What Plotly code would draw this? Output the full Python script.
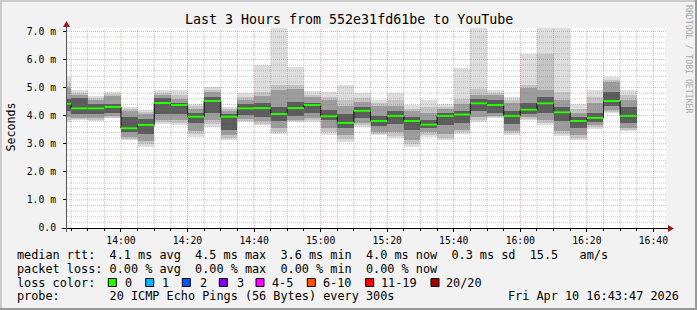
import plotly.graph_objects as go
from datetime import datetime, timedelta

# ---------------- data (values in milliseconds) ----------------
DAY = "2026-04-10"
step_end = ["13:45", "13:50", "13:55", "14:00", "14:05", "14:10", "14:15", "14:20",
            "14:25", "14:30", "14:35", "14:40", "14:45", "14:50", "14:55", "15:00",
            "15:05", "15:10", "15:15", "15:20", "15:25", "15:30", "15:35", "15:40",
            "15:45", "15:50", "15:55", "16:00", "16:05", "16:10", "16:15", "16:20",
            "16:25", "16:30", "16:35"]
median = [4.42, 4.26, 4.26, 4.31, 3.55, 3.67, 4.45, 4.38, 3.96, 4.52, 3.96, 4.26,
          4.27, 4.06, 4.27, 4.38, 3.98, 3.74, 4.17, 3.81, 3.99, 3.81, 3.68, 3.99,
          4.04, 4.44, 4.38, 3.99, 4.21, 4.44, 4.12, 3.81, 3.92, 4.52, 3.99]
ping_max = [5.38, 4.90, 4.69, 4.84, 4.31, 4.19, 4.90, 4.90, 4.43, 5.02, 4.31, 4.79,
            5.82, 7.30, 5.73, 4.87, 4.84, 5.08, 4.79, 4.55, 4.79, 4.37, 4.55, 4.40,
            5.70, 7.50, 4.90, 4.67, 6.21, 7.40, 7.80, 4.40, 4.90, 5.38, 4.90]
ping_min = [3.78, 3.84, 3.81, 3.90, 3.13, 2.89, 3.72, 3.66, 3.24, 3.60, 3.13, 3.78,
            3.66, 3.33, 3.78, 3.78, 3.30, 3.07, 3.60, 3.30, 3.19, 2.89, 3.24, 3.13,
            3.36, 3.78, 3.90, 3.30, 3.84, 3.66, 3.28, 3.13, 3.54, 4.08, 3.45]
p19 = [5.15, 4.82, 4.62, 4.78, 4.22, 4.12, 4.82, 4.72, 4.33, 4.93, 4.22, 4.66,
       4.85, 5.10, 5.10, 4.75, 4.68, 4.55, 4.62, 4.45, 4.55, 4.25, 4.30, 4.32,
       4.60, 4.95, 4.82, 4.55, 5.10, 6.21, 4.85, 4.25, 4.65, 5.28, 4.72]
p2 = [3.85, 3.88, 3.86, 3.93, 3.18, 2.98, 3.78, 3.75, 3.33, 3.72, 3.20, 3.82,
      3.72, 3.42, 3.80, 3.84, 3.42, 3.18, 3.68, 3.36, 3.28, 3.00, 3.32, 3.22,
      3.42, 3.85, 3.94, 3.37, 3.88, 3.75, 3.36, 3.20, 3.58, 4.14, 3.50]
p18 = [5.00, 4.75, 4.55, 4.70, 4.15, 4.05, 4.75, 4.60, 4.25, 4.85, 4.15, 4.55,
       4.70, 4.90, 4.95, 4.65, 4.55, 4.35, 4.50, 4.35, 4.35, 4.15, 4.10, 4.25,
       4.40, 4.75, 4.75, 4.45, 5.00, 4.90, 4.55, 4.10, 4.45, 5.20, 4.55]
p15 = [4.60, 4.62, 4.40, 4.40, 3.95, 3.88, 4.62, 4.45, 4.10, 4.65, 4.05, 4.40,
       4.45, 4.30, 4.50, 4.45, 4.20, 4.05, 4.30, 4.00, 4.15, 3.95, 3.85, 4.10,
       4.15, 4.60, 4.55, 4.15, 4.45, 4.65, 4.30, 3.95, 4.10, 4.85, 4.30]
p6 = [4.15, 4.05, 4.05, 4.10, 3.42, 3.35, 4.05, 4.05, 3.75, 4.10, 3.50, 4.02,
      3.95, 3.80, 4.00, 4.10, 3.85, 3.55, 3.90, 3.62, 3.70, 3.50, 3.55, 3.65,
      3.75, 4.15, 4.10, 3.70, 4.05, 4.10, 3.80, 3.55, 3.78, 4.35, 3.75]
p3 = [3.95, 3.92, 3.92, 3.97, 3.25, 3.10, 3.85, 3.85, 3.45, 3.85, 3.30, 3.88,
      3.80, 3.55, 3.85, 3.90, 3.55, 3.30, 3.75, 3.42, 3.40, 3.15, 3.40, 3.35,
      3.50, 3.95, 3.98, 3.45, 3.95, 3.85, 3.45, 3.30, 3.65, 4.20, 3.55]

y_ticks = [0, 1, 2, 3, 4, 5, 6, 7]
y_ticktext = ["0.0", "1.0 m", "2.0 m", "3.0 m", "4.0 m", "5.0 m", "6.0 m", "7.0 m"]

loss_labels = ["0", "1", "2", "3", "4-5", "6-10", "11-19", "20/20"]
loss_colors = ["#26ff00", "#00b8ff", "#0059ff", "#7e00ff", "#ff00ff", "#ff5500",
               "#ff0000", "#a10000"]

title = "Last 3 Hours from 552e31fd61be to YouTube"
line_rtt = "median rtt:  4.1 ms avg  4.5 ms max  3.6 ms min  4.0 ms now  0.3 ms sd  15.5   am/s"
line_loss = "packet loss: 0.00 % avg  0.00 % max  0.00 % min  0.00 % now"
line_probe = "probe:       20 ICMP Echo Pings (56 Bytes) every 300s"
stamp = "Fri Apr 10 16:43:47 2026"

# ---------------- geometry ----------------
FW, FH = 697, 310
L, T, W, H = 67, 28, 599, 200
MONO = "DejaVu Sans Mono"
BG = "#f2f2f2"


def fx(p):
    return (p - L) / W


def fy(p):
    return (T + H - p) / H


def nb(s):
    return s.replace(" ", "\u00a0")


ends = [datetime.fromisoformat(f"{DAY} {t}:00") for t in step_end]
starts = [e - timedelta(minutes=5) for e in ends]
STEP_MS = 300000

fig = go.Figure()

bands = [(ping_min, ping_max, "#dddddd"), (p2, p19, "#c4c4c4"),
         (p3, p18, "#9d9d9d"), (p6, p15, "#5c5c5c")]
for lo, hi, col in bands:
    fig.add_trace(go.Bar(
        x=ends, y=[h - l for l, h in zip(lo, hi)], base=lo,
        width=STEP_MS, offset=-STEP_MS,
        marker=dict(color=col, line=dict(width=0)),
        hoverinfo="skip", showlegend=False))

# black step line of the median
fig.add_trace(go.Scatter(
    x=starts + [ends[-1]], y=median + [median[-1]], mode="lines",
    line=dict(color="#000000", width=1, shape="hv"),
    hoverinfo="skip", showlegend=False))

# green (0 loss) median segments
gx, gy = [], []
for s, e, m in zip(starts, ends, median):
    gx += [s, e, None]
    gy += [m, m, None]
fig.add_trace(go.Scatter(
    x=gx, y=gy, mode="lines", line=dict(color=loss_colors[0], width=2),
    hoverinfo="skip", showlegend=False))

shapes = []
MINOR = "rgba(120,120,120,0.4)"
MAJOR = "rgba(225,70,70,0.45)"
# grid drawn above the smoke, like rrdtool
t = datetime.fromisoformat(f"{DAY} 13:45:00")
while t <= datetime.fromisoformat(f"{DAY} 16:40:00"):
    major = (t.minute % 20 == 0)
    shapes.append(dict(type="line", xref="x", yref="paper", x0=t, x1=t, y0=0, y1=1,
                       line=dict(color=MAJOR if major else MINOR, width=1, dash="1px,1px"),
                       layer="above"))
    t += timedelta(minutes=5)
for k in range(1, 36):
    v = k * 0.2
    major = (k % 5 == 0)
    shapes.append(dict(type="line", xref="paper", yref="y", x0=0, x1=1, y0=v, y1=v,
                       line=dict(color=MAJOR if major else MINOR, width=1, dash="1px,1px"),
                       layer="above"))

# axes lines and arrows
shapes.append(dict(type="line", xref="paper", yref="paper", x0=fx(62), x1=fx(669),
                   y0=fy(228.5), y1=fy(228.5), line=dict(color="#000", width=1), layer="above"))
shapes.append(dict(type="line", xref="paper", yref="paper", x0=fx(66.5), x1=fx(66.5),
                   y0=fy(232), y1=fy(25), line=dict(color="#555", width=1), layer="above"))
shapes.append(dict(type="path", xref="paper", yref="paper",
                   path=f"M {fx(668)},{fy(225)} L {fx(674)},{fy(228.5)} L {fx(668)},{fy(232)} Z",
                   fillcolor="#9b1b1b", line=dict(width=0), layer="above"))
shapes.append(dict(type="path", xref="paper", yref="paper",
                   path=f"M {fx(63)},{fy(27)} L {fx(66.5)},{fy(21)} L {fx(70)},{fy(27)} Z",
                   fillcolor="#9b1b1b", line=dict(width=0), layer="above"))

# outer bevel frame
shapes.append(dict(type="rect", xref="paper", yref="paper", x0=fx(0), x1=fx(2),
                   y0=fy(FH), y1=fy(0), fillcolor="#cbcbcb", line=dict(width=0)))
shapes.append(dict(type="rect", xref="paper", yref="paper", x0=fx(0), x1=fx(FW),
                   y0=fy(2), y1=fy(0), fillcolor="#cbcbcb", line=dict(width=0)))
shapes.append(dict(type="rect", xref="paper", yref="paper", x0=fx(FW - 2), x1=fx(FW),
                   y0=fy(FH), y1=fy(0), fillcolor="#999999", line=dict(width=0)))
shapes.append(dict(type="rect", xref="paper", yref="paper", x0=fx(0), x1=fx(FW),
                   y0=fy(FH), y1=fy(FH - 2), fillcolor="#999999", line=dict(width=0)))

# loss colour boxes
box_x = [108.3, 145.7, 182.3, 219.3, 256.0, 307.3, 365.7, 431.0]
lab_x = [123.5, 161.0, 198.5, 235.5, 271.0, 322.0, 380.0, 445.0]
for bx, col in zip(box_x, loss_colors):
    shapes.append(dict(type="rect", xref="paper", yref="paper", x0=fx(bx), x1=fx(bx + 8),
                       y0=fy(286.5), y1=fy(278.5), fillcolor=col,
                       line=dict(color="#000", width=1)))

ann = []


def text(s, x, y, size, xa="left", color="#000", angle=0):
    ann.append(dict(text=nb(s), x=fx(x), y=fy(y), xref="paper", yref="paper",
                    xanchor=xa, yanchor="middle", showarrow=False, borderpad=0,
                    textangle=angle, font=dict(family=MONO, size=size, color=color)))


text(title, 348.5, 19.5, 13.3, xa="center")
text("Seconds", 10.5, 127, 11.6, xa="center", angle=-90)
text("RRDTOOL / TOBI OETIKER", 689, 59, 8.2, xa="center", color="#a8a8a8", angle=90)
LEG = 11.84
text(line_rtt, 16, 255, LEG)
text(line_loss, 16, 268.5, LEG)
text("loss color:", 16, 282.5, LEG)
for lx, lab in zip(lab_x, loss_labels):
    text(lab, lx, 282.5, LEG)
text(line_probe, 16, 296, LEG)
text(stamp, 680, 296, LEG, xa="right")

fig.update_layout(
    width=FW, height=FH,
    margin=dict(l=L, r=FW - L - W, t=T, b=FH - T - H, pad=0),
    paper_bgcolor=BG, plot_bgcolor="#ffffff",
    barmode="overlay", bargap=0, showlegend=False,
    shapes=shapes, annotations=ann,
    font=dict(family=MONO, size=9.75, color="#000"),
)
fig.update_xaxes(
    type="date", range=[f"{DAY} 13:43:47", f"{DAY} 16:43:47"],
    tick0=f"{DAY} 14:00:00", dtick=20 * 60 * 1000, tickformat="%H:%M",
    showgrid=False, zeroline=False, showline=False,
    ticks="outside", ticklen=3, tickcolor="#000",
    minor=dict(dtick=5 * 60 * 1000, ticks="outside", ticklen=2, tickcolor="#000", showgrid=False),
    tickfont=dict(family=MONO, size=9.75, color="#000"), fixedrange=True,
)
fig.update_yaxes(
    range=[0, 7.12], tickvals=y_ticks, ticktext=y_ticktext,
    showgrid=False, zeroline=False, showline=False,
    ticks="outside", ticklen=3, tickcolor="#000",
    tickfont=dict(family=MONO, size=9.75, color="#000"), fixedrange=True,
    ticklabelstandoff=5,
)

fig.write_html("out.html")
